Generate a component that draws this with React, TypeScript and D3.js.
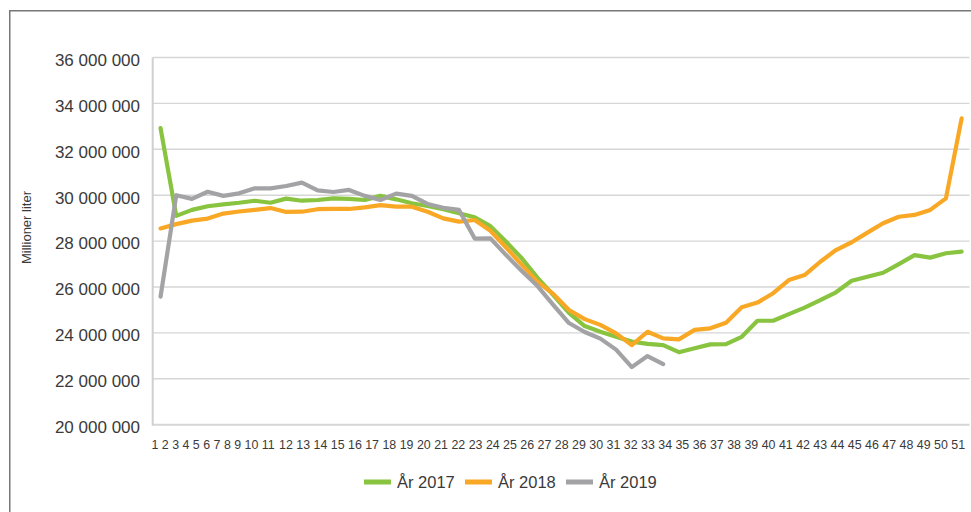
import React from "react";
import * as d3 from "d3";

// ---------- data ----------
const weeks: number[] = [
  1, 2, 3, 4, 5, 6, 7, 8, 9, 10, 11, 12, 13, 14, 15, 16, 17, 18, 19, 20, 21, 22, 23, 24, 25, 26,
  27, 28, 29, 30, 31, 32, 33, 34, 35, 36, 37, 38, 39, 40, 41, 42, 43, 44, 45, 46, 47, 48, 49, 50, 51, 52,
];
// the reference shows tick labels 1..51 only
const xTickLabels: string[] = [
  "1", "2", "3", "4", "5", "6", "7", "8", "9", "10", "11", "12", "13", "14", "15", "16", "17", "18",
  "19", "20", "21", "22", "23", "24", "25", "26", "27", "28", "29", "30", "31", "32", "33", "34", "35",
  "36", "37", "38", "39", "40", "41", "42", "43", "44", "45", "46", "47", "48", "49", "50", "51",
];
const yTicks: number[] = [20000000, 22000000, 24000000, 26000000, 28000000, 30000000, 32000000, 34000000, 36000000];

const values2017: number[] = [
  32920000, 29100000, 29360000, 29520000, 29600000, 29670000, 29760000, 29670000, 29850000, 29760000,
  29790000, 29860000, 29840000, 29790000, 29970000, 29820000, 29650000, 29530000, 29390000, 29210000,
  29040000, 28650000, 27970000, 27250000, 26400000, 25650000, 24870000, 24300000, 24050000, 23830000,
  23620000, 23520000, 23470000, 23160000, 23330000, 23500000, 23510000, 23830000, 24530000, 24530000,
  24820000, 25100000, 25430000, 25770000, 26270000, 26450000, 26620000, 27000000, 27390000, 27280000,
  27470000, 27540000,
];
const values2018: number[] = [
  28550000, 28740000, 28890000, 28980000, 29200000, 29290000, 29360000, 29440000, 29270000, 29280000,
  29390000, 29400000, 29400000, 29470000, 29570000, 29500000, 29500000, 29280000, 28990000, 28850000,
  28920000, 28450000, 27720000, 26960000, 26230000, 25700000, 25000000, 24600000, 24350000, 23980000,
  23470000, 24050000, 23760000, 23720000, 24130000, 24200000, 24440000, 25120000, 25320000, 25730000,
  26300000, 26520000, 27100000, 27610000, 27950000, 28370000, 28780000, 29060000, 29140000, 29360000,
  29860000, 33350000,
];
const values2019: number[] = [
  25580000, 30000000, 29840000, 30150000, 29970000, 30080000, 30300000, 30300000, 30400000, 30550000,
  30210000, 30140000, 30230000, 29970000, 29790000, 30070000, 29970000, 29620000, 29450000, 29360000,
  28110000, 28120000, 27390000, 26700000, 26040000, 25220000, 24430000, 24040000, 23750000, 23270000,
  22510000, 22990000, 22640000,
];
const seriesNames: string[] = ["År 2017", "År 2018", "År 2019"];
const seriesColors: string[] = ["#88c43f", "#f8a825", "#a3a3a6"];
const yTitle = "Millioner liter";

// ---------- layout ----------
const W = 971;
const H = 512;
const PLOT = { left: 152.7, right: 969.5, top: 57.5, bottom: 424.7 };
const FONT = "'Liberation Sans', Arial, Helvetica, sans-serif";
const TEXT = "#3a3a3a";

export default function App() {
  const series = [values2017, values2018, values2019];

  const x = d3.scaleBand<number>().domain(weeks).range([PLOT.left, PLOT.right]);
  const cx = (w: number) => (x(w) as number) + x.bandwidth() / 2;
  const y = d3.scaleLinear().domain([20000000, 36000000]).range([PLOT.bottom, PLOT.top]);
  const fmt = (v: number) => d3.format(",")(v).replace(/,/g, " ");

  const line = d3
    .line<number>()
    .x((_, i) => cx(weeks[i]))
    .y((d) => y(d));

  // x labels flow like text (as in the reference), laid out from their string widths
  const xfs = 12.4;
  const digitW = 0.556 * xfs;
  const spaceW = 0.278 * xfs;
  let cursor = 151.5;
  const xLabelPos = xTickLabels.map((l) => {
    const p = cursor;
    cursor += l.length * digitW + spaceW;
    return p;
  });

  // legend layout
  const legFs = 16.5;
  const swatchW = 27;
  const legStart = 364;
  const legStep = 101;
  const legY = 482;

  return (
    <svg
      width={W}
      height={H}
      viewBox={`0 0 ${W} ${H}`}
      style={{ position: "absolute", left: 0, top: 0, display: "block", background: "#fff" }}
    >
      <rect x={9.75} y={10.75} width={1000} height={1000} fill="none" stroke="#777" strokeWidth={1.5} />

      {/* gridlines */}
      {yTicks.map((t) => (
        <line
          key={"g" + t}
          x1={PLOT.left}
          x2={PLOT.right}
          y1={y(t)}
          y2={y(t)}
          stroke="#d6d6d6"
          strokeWidth={t === 20000000 ? 2 : 1.4}
        />
      ))}
      <line x1={PLOT.left} x2={PLOT.left} y1={PLOT.top} y2={PLOT.bottom + 1} stroke="#d0d0d0" strokeWidth={2} />

      {/* y tick labels */}
      {yTicks.map((t) => (
        <text
          key={"yl" + t}
          x={140}
          y={y(t) + 8.3}
          textAnchor="end"
          fontFamily={FONT}
          fontSize={17}
          fill={TEXT}
        >
          {fmt(t)}
        </text>
      ))}

      {/* y title */}
      <text
        transform={`translate(30.5, ${(PLOT.top + PLOT.bottom) / 2 - 13.6}) rotate(-90)`}
        textAnchor="middle"
        fontFamily={FONT}
        fontSize={13}
        fill={TEXT}
      >
        {yTitle}
      </text>

      {/* x tick labels */}
      {xTickLabels.map((l, i) => (
        <text key={"xl" + l} x={xLabelPos[i]} y={448.7} fontFamily={FONT} fontSize={xfs} fill={TEXT}>
          {l}
        </text>
      ))}

      {/* lines */}
      {series.map((s, si) => (
        <path
          key={"s" + si}
          d={line(s) || ""}
          fill="none"
          stroke={seriesColors[si]}
          strokeWidth={4.2}
          strokeLinejoin="round"
          strokeLinecap="round"
        />
      ))}

      {/* legend */}
      {seriesNames.map((n, i) => {
        const lx = legStart + i * legStep;
        return (
          <g key={"lg" + n}>
            <line x1={lx} x2={lx + swatchW} y1={legY} y2={legY} stroke={seriesColors[i]} strokeWidth={5} />
            <text x={lx + swatchW + 6} y={488.3} fontFamily={FONT} fontSize={legFs} fill={TEXT}>
              {n}
            </text>
          </g>
        );
      })}
    </svg>
  );
}
